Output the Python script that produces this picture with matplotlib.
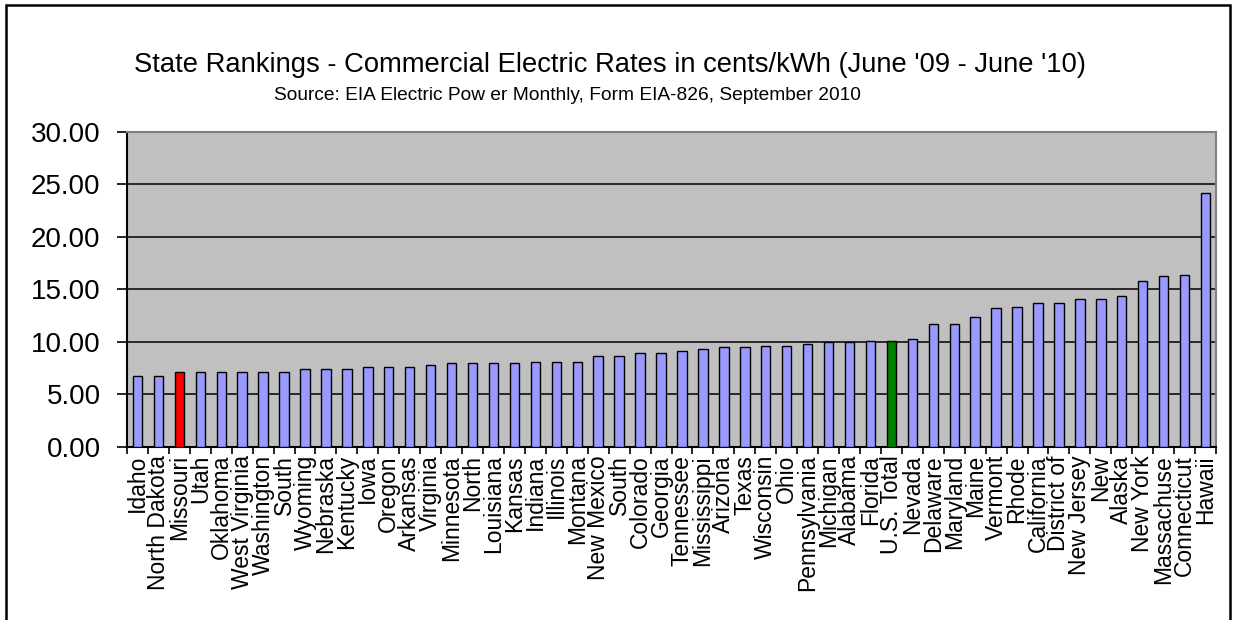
import matplotlib
matplotlib.use("Agg")
import matplotlib.pyplot as plt
from matplotlib.patches import Rectangle
import numpy as np

states = ["Idaho", "North Dakota", "Missouri", "Utah", "Oklahoma", "West Virginia",
          "Washington", "South", "Wyoming", "Nebraska", "Kentucky", "Iowa", "Oregon",
          "Arkansas", "Virginia", "Minnesota", "North", "Louisiana", "Kansas", "Indiana",
          "Illinois", "Montana", "New Mexico", "South", "Colorado", "Georgia", "Tennessee",
          "Mississippi", "Arizona", "Texas", "Wisconsin", "Ohio", "Pennsylvania", "Michigan",
          "Alabama", "Florida", "U.S. Total", "Nevada", "Delaware", "Maryland", "Maine",
          "Vermont", "Rhode", "California", "District of", "New Jersey", "New", "Alaska",
          "New York", "Massachuse", "Connecticut", "Hawaii"]

rates = [6.73, 6.73, 7.11, 7.11, 7.11, 7.11, 7.11, 7.11, 7.43, 7.43, 7.43, 7.62, 7.62,
         7.62, 7.78, 7.94, 7.94, 7.94, 7.94, 8.10, 8.10, 8.10, 8.64, 8.64, 8.95, 8.95,
         9.14, 9.30, 9.47, 9.47, 9.62, 9.62, 9.81, 9.94, 9.94, 10.10, 10.10, 10.29, 11.66,
         11.66, 12.35, 13.18, 13.33, 13.66, 13.66, 14.04, 14.04, 14.35, 15.75, 16.23,
         16.38, 24.19]

highlight = {"Missouri": "#FF0000", "U.S. Total": "#008000"}

title = "State Rankings - Commercial Electric Rates in cents/kWh (June '09 - June '10)"
subtitle = "Source: EIA Electric Pow er Monthly, Form EIA-826, September 2010"

plt.rcParams['font.family'] = ['Liberation Sans', 'DejaVu Sans']

fig = plt.figure(figsize=(12.33, 6.20), dpi=100)
ax = fig.add_axes([127 / 1233, 1 - 446.7 / 620, (1216 - 127) / 1233, (446.7 - 131.7) / 620])

x = np.arange(len(states))
colors = [highlight.get(s, "#9999FF") for s in states]
ax.bar(x, rates, width=0.45, color=colors, edgecolor="black", linewidth=1.0, zorder=3)

ax.set_facecolor("#C0C0C0")
ax.set_xlim(-0.5, len(states) - 0.5)
ax.set_ylim(0, 30)
ax.set_yticks(np.arange(0, 31, 5))
ax.set_yticklabels([f"{v:.2f}" for v in np.arange(0, 31, 5)], fontsize=20)
ax.yaxis.grid(True, color="black", linewidth=1.1, zorder=1)
ax.set_axisbelow(True)

ax.set_xticks(x)
ax.set_xticklabels(states, rotation=90, fontsize=16.5, va="top", ha="center")
ax.tick_params(axis="x", which="major", length=0, pad=6)
ax.set_xticks(np.arange(-0.5, len(states), 1), minor=True)
ax.tick_params(axis="x", which="minor", length=5, width=1.2, direction="out")
ax.tick_params(axis="y", length=7, width=1.2, direction="out", pad=12)

for side in ["top", "right"]:
    ax.spines[side].set_color("#808080")
    ax.spines[side].set_linewidth(1.5)
for side in ["left", "bottom"]:
    ax.spines[side].set_color("black")
    ax.spines[side].set_linewidth(1.5)

fig.text(610 / 1233, 1 - 65 / 620, title, fontsize=19.7, ha="center", va="center")
fig.text(567 / 1233, 1 - 96 / 620, subtitle, fontsize=13.8, ha="center", va="center")

fig.patches.append(Rectangle((6 / 1233, -0.1), (1230 - 6) / 1233, 1.1 - 4.5 / 620,
                             transform=fig.transFigure, fill=False,
                             edgecolor="black", linewidth=1.8))

fig.savefig("out.png", dpi=100)
